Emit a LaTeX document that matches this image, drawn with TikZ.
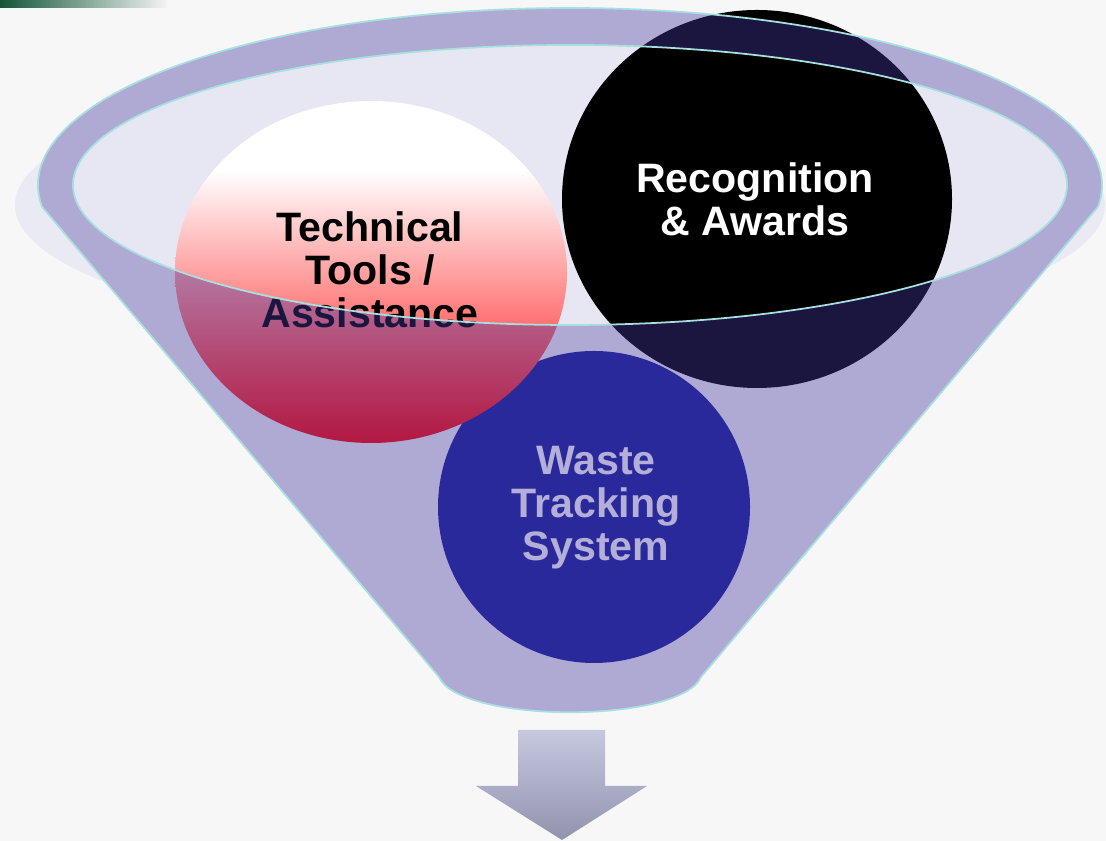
\documentclass[tikz,border=0pt]{standalone}
\usepackage{fontspec}
\setmainfont{Liberation Sans}
\definecolor{bgcol}{RGB}{247,247,247}
\definecolor{mouth}{RGB}{230,231,242}
\definecolor{haze}{RGB}{234,234,244}
\definecolor{funnelcol}{RGB}{65,55,160}
\definecolor{rimline}{RGB}{168,224,224}
\definecolor{salmon}{RGB}{255,108,108}
\definecolor{wastecol}{RGB}{28,32,152}
\definecolor{arrowtop}{RGB}{198,200,224}
\definecolor{arrowbot}{RGB}{146,146,172}
\definecolor{leafgreen}{RGB}{20,85,55}
\def\funnelpath{(0.421,6.341) arc[start angle=187.1, end angle=-7.1, x radius=5.32, y radius=1.77] -- (7.01,1.64) .. controls (6.80,1.17) and (4.60,1.17) .. (4.39,1.64) -- cycle}
\def\mouthpath{(5.70,6.56) ellipse [x radius=4.97, y radius=1.40]}
\tikzset{balltext/.style={font=\fontsize{11.7}{12.2}\selectfont\bfseries, align=center, inner sep=0pt}}

\begin{document}
\begin{tikzpicture}
	%%%%% START %%%%%
	\useasboundingbox (0,0) rectangle (11.06,8.41);
	\fill[bgcol] (0,0) rectangle (11.06,8.41);
	\shade[left color=leafgreen, right color=bgcol] (0,8.33) rectangle (1.7,8.41);
	
	\fill[haze] (5.60,6.36) ellipse [x radius=5.45, y radius=1.40];
	\fill[bgcol] \funnelpath;
	\fill[mouth] \mouthpath;
	
	% waste tracking ball
	\fill[wastecol] (5.94,3.34) circle (1.56);
	\node[balltext, text=white] (tracking) at (5.96,3.33) {Waste\\Tracking\\System};
	
	% recognition ball
	\fill[black] (7.57,6.42) ellipse [x radius=1.95, y radius=1.89];
	\node[balltext, text=white] (awards) at (7.55,6.42) {Recognition\\\& Awards};
	
	% technical ball
	\begin{scope}
		\clip (3.71,5.69) ellipse [x radius=1.96, y radius=1.71];
		\fill[white] (1.7,7.45) rectangle (5.7,6.71);
		\shade[top color=white, bottom color=salmon] (1.7,6.71) rectangle (5.7,5.11);
		\shade[top color=salmon, bottom color=red] (1.7,5.11) rectangle (5.7,3.95);
	\end{scope}
	\node[balltext, text=black] (tools) at (3.70,5.71) {Technical\\Tools /\\Assistance};
	
	% glass of the funnel
	\fill[funnelcol, opacity=0.4, even odd rule] \funnelpath \mouthpath;
	\draw[rimline, line width=0.5pt] \funnelpath;
	\draw[rimline, line width=0.5pt] \mouthpath;
	
	% arrow
	\shade[top color=arrowtop, bottom color=arrowbot] (5.18,1.11) -- (6.05,1.11) -- (6.05,0.55) -- (6.47,0.55) -- (5.62,0.01) -- (4.76,0.55) -- (5.18,0.55) -- cycle;
	%%%%% END %%%%%
\end{tikzpicture}
\end{document}
